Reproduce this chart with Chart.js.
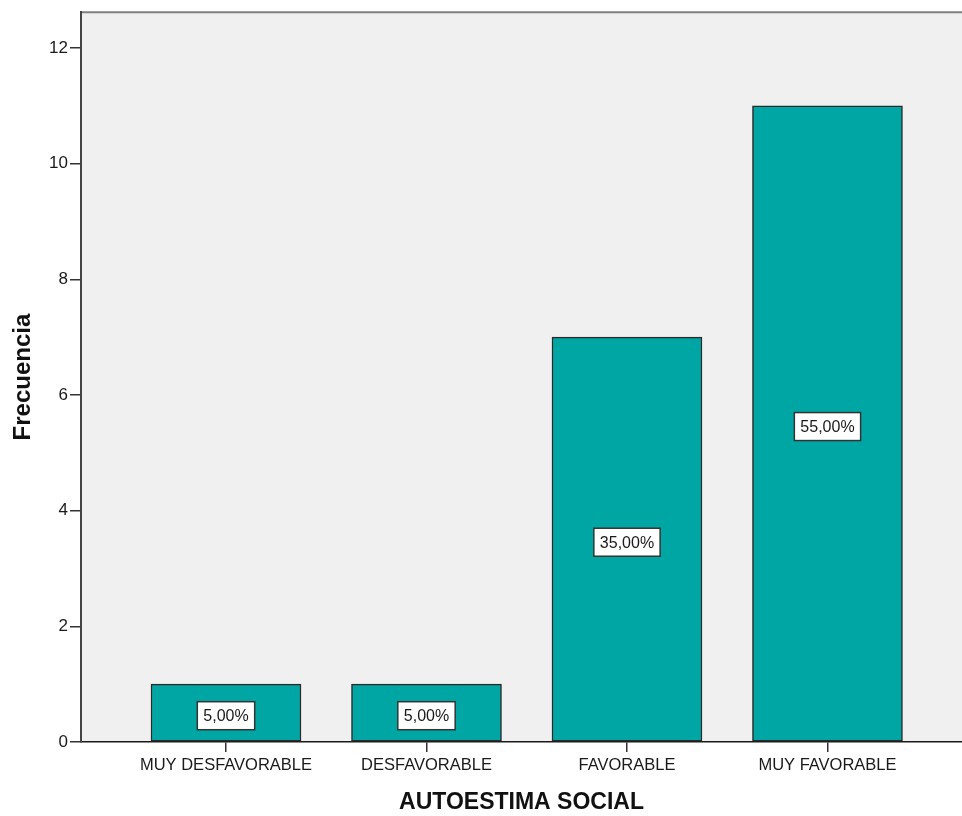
<!DOCTYPE html>
<html>
<head>
<meta charset="utf-8">
<script src="https://cdn.jsdelivr.net/npm/chart.js@4/dist/chart.umd.min.js"></script>
<style>
  html, body { margin: 0; padding: 0; background: #ffffff; }
  #wrap { width: 962px; height: 816px; position: relative; }
</style>
</head>
<body>
<div id="wrap"><canvas id="barChart" width="962" height="816"></canvas></div>
<script>
// ── DATI ─────────────────────────────────────
const categorie = ['MUY DESFAVORABLE', 'DESFAVORABLE', 'FAVORABLE', 'MUY FAVORABLE'];
const frecuencia = [1, 1, 7, 11];
const porcentajes = ['5,00%', '5,00%', '35,00%', '55,00%'];
const yTicks = [0, 2, 4, 6, 8, 10, 12];

const BAR_COLOR = '#00a6a4';
const FONT = '"Liberation Sans", Arial, sans-serif';

// sfondo area grafico + bordo superiore
const plotBackground = {
  id: 'plotBackground',
  beforeDraw(chart) {
    const { ctx, chartArea: a } = chart;
    ctx.save();
    ctx.fillStyle = '#f0f0f0';
    ctx.fillRect(a.left, a.top, a.right - a.left, a.bottom - a.top);
    ctx.strokeStyle = '#808080';
    ctx.lineWidth = 2;
    ctx.beginPath();
    ctx.moveTo(a.left, a.top);
    ctx.lineTo(a.right, a.top);
    ctx.stroke();
    ctx.restore();
  }
};

// etichette percentuali nelle barre
const boxLabels = {
  id: 'boxLabels',
  afterDatasetsDraw(chart) {
    const { ctx } = chart;
    const meta = chart.getDatasetMeta(0);
    ctx.save();
    ctx.font = '16px ' + FONT;
    ctx.textAlign = 'center';
    ctx.textBaseline = 'middle';
    meta.data.forEach((bar, i) => {
      const txt = porcentajes[i];
      const cx = bar.x;
      const cy = (bar.y + bar.base) / 2 + 3;
      const w = ctx.measureText(txt).width + 12;
      const h = 28;
      ctx.fillStyle = '#ffffff';
      ctx.fillRect(cx - w / 2, cy - h / 2, w, h);
      ctx.strokeStyle = '#333333';
      ctx.lineWidth = 1.5;
      ctx.strokeRect(cx - w / 2, cy - h / 2, w, h);
      ctx.fillStyle = '#1a1a1a';
      ctx.fillText(txt, cx, cy + 1);
    });
    ctx.restore();
  }
};

new Chart(document.getElementById('barChart'), {
  type: 'bar',
  data: {
    datasets: [{
      data: frecuencia.map((v, i) => ({ x: i, y: v })),
      backgroundColor: BAR_COLOR,
      borderColor: '#2b2b2b',
      borderWidth: 1.5,
      borderSkipped: false,
      barThickness: 150
    }]
  },
  options: {
    responsive: false,
    animation: false,
    layout: { padding: { top: 12, left: 0, right: 0, bottom: 0 } },
    plugins: {
      legend: { display: false },
      tooltip: { enabled: false }
    },
    scales: {
      x: {
        type: 'linear',
        offset: false,
        min: -0.7232,
        max: 3.671,
        afterFit(scale) { scale.height = 74; },
        afterBuildTicks(scale) {
          scale.ticks = categorie.map((c, i) => ({ value: i }));
        },
        ticks: {
          includeBounds: false,
          autoSkip: false,
          maxRotation: 0,
          padding: 4,
          color: '#1a1a1a',
          font: { family: FONT, size: 16.5 },
          callback: (v) => categorie[v]
        },
        grid: { offset: false, drawOnChartArea: false, drawTicks: true, tickLength: 10, color: '#333333', lineWidth: 1.5 },
        border: { display: true, color: '#1a1a1a', width: 1.5 },
        title: {
          display: true,
          text: 'AUTOESTIMA SOCIAL',
          color: '#111111',
          font: { family: FONT, size: 23, weight: 'bold' },
          padding: { top: 0, bottom: 0 }
        }
      },
      y: {
        min: 0,
        max: 12.62,
        afterFit(scale) { scale.width = 81; },
        afterBuildTicks(scale) {
          scale.ticks = yTicks.map(v => ({ value: v }));
        },
        ticks: {
          includeBounds: false,
          padding: 2,
          color: '#1a1a1a',
          font: { family: FONT, size: 17 }
        },
        grid: { drawOnChartArea: false, drawTicks: true, tickLength: 11, color: '#333333', lineWidth: 1.5 },
        border: { display: true, color: '#444444', width: 2 },
        title: {
          display: true,
          text: 'Frecuencia',
          color: '#111111',
          font: { family: FONT, size: 24, weight: 'bold' },
          padding: { top: 9, bottom: 0 }
        }
      }
    }
  },
  plugins: [plotBackground, boxLabels]
});
</script>
</body>
</html>
